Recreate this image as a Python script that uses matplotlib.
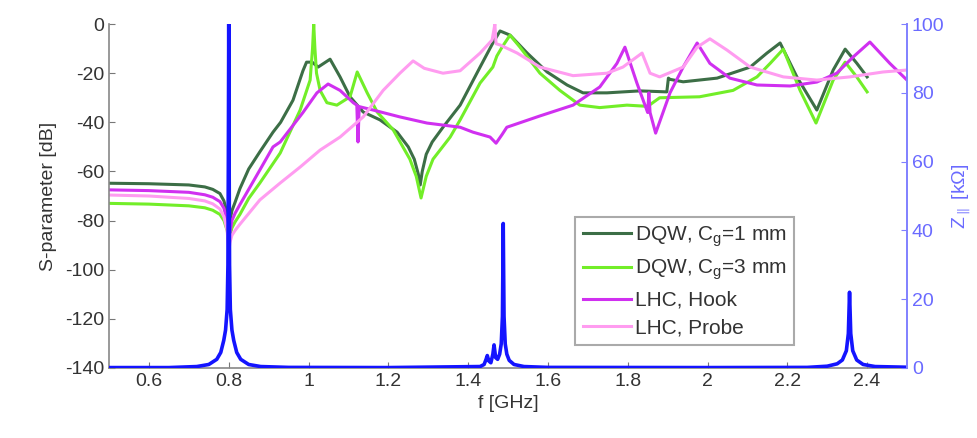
import matplotlib.pyplot as plt
from matplotlib.ticker import FormatStrFormatter

plt.rcParams['font.family'] = ['Liberation Sans', 'DejaVu Sans']
plt.rcParams['mathtext.fontset'] = 'custom'
plt.rcParams['mathtext.rm'] = 'Liberation Sans'
plt.rcParams['mathtext.it'] = 'Liberation Sans:italic'
plt.rcParams['axes.unicode_minus'] = False

# S-parameters [dB]
f_dqw1 = [0.5, 0.6, 0.7, 0.74, 0.76, 0.778, 0.788, 0.796, 0.8, 0.803, 0.808, 0.816, 0.828, 0.85,
          0.878, 0.911, 0.93, 0.961, 0.986, 0.995, 1.009, 1.024, 1.054, 1.079, 1.104, 1.137, 1.179,
          1.222, 1.25, 1.265, 1.275, 1.28, 1.285, 1.295, 1.31, 1.337, 1.38, 1.43, 1.462, 1.48,
          1.505, 1.548, 1.598, 1.648, 1.688, 1.748, 1.83, 1.898, 1.902, 1.906, 1.939, 2.024, 2.107,
          2.149, 2.182, 2.224, 2.274, 2.315, 2.345, 2.374, 2.4]
s_dqw1 = [-64.8, -65, -65.5, -66.3, -67.3, -69, -72, -77, -84, -80, -76, -72.5, -67, -59,
          -52, -44, -40, -31, -19, -15.5, -15.5, -17.5, -14.3, -21.5, -29.6, -35.8, -39,
          -44, -50, -55, -61, -65.5, -60, -53, -48, -42, -33, -17.5, -7.7, -2.8,
          -4.5, -11.8, -19.5, -24.8, -28, -28, -27.2, -27.6, -22, -22.5, -23.5, -22, -17.5,
          -11.8, -7.7, -21.5, -35, -18.7, -10.2, -15.9, -21.5]

f_dqw3 = [0.5, 0.6, 0.7, 0.74, 0.76, 0.778, 0.788, 0.796, 0.8, 0.803, 0.808, 0.816, 0.828, 0.85,
          0.878, 0.929, 0.979, 1.004, 1.01, 1.013, 1.016, 1.02, 1.029, 1.046, 1.071, 1.104, 1.122,
          1.147, 1.172, 1.212, 1.254, 1.27, 1.282, 1.295, 1.312, 1.355, 1.38, 1.43, 1.462, 1.472,
          1.485, 1.505, 1.53, 1.58, 1.63, 1.68, 1.73, 1.798, 1.85, 1.88, 1.98, 2.064, 2.124, 2.157,
          2.19, 2.232, 2.272, 2.315, 2.345, 2.374, 2.4]
s_dqw3 = [-73, -73.3, -74, -74.8, -75.8, -77.5, -80, -84, -88, -86, -83, -80.5, -77.5, -71,
          -64.7, -52.5, -35, -22.8, -10, 0, -10, -20, -27, -32, -33, -29.6, -19.5,
          -28, -35.8, -43, -55, -62, -70.8, -62, -55, -46, -39, -24, -17.5, -13,
          -9.4, -4.5, -9.4, -20, -27, -33, -34, -33, -33.5, -30, -29.6, -27, -21.5, -16,
          -10.2, -27, -40.3, -22.8, -15.5, -21.5, -27.6]

f_hook = [0.5, 0.6, 0.7, 0.74, 0.76, 0.778, 0.788, 0.796, 0.8, 0.803, 0.808, 0.816, 0.828, 0.878,
          0.911, 0.929, 0.986, 1.021, 1.049, 1.079, 1.112, 1.121, 1.124, 1.127, 1.137, 1.162, 1.229,
          1.297, 1.38, 1.412, 1.455, 1.47, 1.485, 1.497, 1.58, 1.663, 1.73, 1.773, 1.793, 1.823,
          1.85, 1.853, 1.856, 1.87, 1.906, 1.939, 1.974, 2.006, 2.056, 2.124, 2.207, 2.274, 2.324,
          2.365, 2.407, 2.457, 2.5]
s_hook = [-67.5, -67.8, -68.5, -69.5, -70.5, -72.3, -75, -80, -90, -85, -80, -77, -73.5, -59.4,
          -50, -48, -36, -28, -24.4, -27, -32, -33, -48, -33.6, -34, -35, -37.8,
          -40.3, -42, -44, -46, -48.5, -45, -42, -37.4, -33, -25.6, -16, -9.4, -24,
          -36, -28, -36, -44.4, -28, -17.5, -7.7, -16, -22, -24.8, -25.2, -23.6, -20,
          -13.4, -7.3, -16, -22.8]

f_probe = [0.5, 0.6, 0.7, 0.74, 0.76, 0.778, 0.788, 0.796, 0.8, 0.803, 0.808, 0.816, 0.828, 0.878,
           0.929, 0.979, 1.029, 1.079, 1.137, 1.187, 1.229, 1.262, 1.29, 1.337, 1.38, 1.43, 1.46,
           1.465, 1.467, 1.47, 1.48, 1.523, 1.58, 1.663, 1.748, 1.788, 1.836, 1.856, 1.88, 1.939,
           1.974, 2.006, 2.049, 2.107, 2.19, 2.274, 2.357, 2.44, 2.5]
s_probe = [-69.6, -70, -71, -72, -73.2, -75.3, -78.5, -84, -93, -89, -86, -84, -81.5, -71.6,
           -64.7, -58.2, -51.3, -46, -37.8, -27, -20, -15, -18, -20, -19, -11.8, -6.5,
           -2, 0, -8, -8.5, -11.8, -17.5, -21, -20, -17.5, -11.8, -20, -21.5, -17.5,
           -9.4, -6, -10.6, -17.5, -21.5, -22.8, -21.5, -19.5, -18.7]

# longitudinal impedance [kOhm]
f_z = [0.5, 0.65, 0.72, 0.75, 0.77, 0.78, 0.7875, 0.792, 0.796, 0.798, 0.799, 0.8, 0.801, 0.802,
       0.804, 0.808, 0.8125, 0.82, 0.83, 0.85, 0.88, 0.95, 1.2, 1.43, 1.44, 1.445, 1.448, 1.452,
       1.457, 1.462, 1.465, 1.469, 1.474, 1.479, 1.483, 1.486, 1.487, 1.488, 1.489, 1.49, 1.493,
       1.497, 1.503, 1.515, 1.54, 1.6, 2.0, 2.25, 2.3, 2.325, 2.338, 2.348, 2.353, 2.355, 2.356,
       2.357, 2.359, 2.364, 2.374, 2.39, 2.42, 2.5]
z = [0.1, 0.1, 0.4, 1.0, 2.5, 4.5, 8, 11, 17, 30, 60, 100, 60, 30,
     17, 11, 8, 4.5, 2.5, 1.0, 0.4, 0.15, 0.1, 0.4, 1.0, 2.5, 3.6, 2.0,
     1.5, 4, 6.7, 3, 2.5, 4, 7, 15, 28, 42, 28, 15, 7,
     4, 2.2, 1.0, 0.4, 0.15, 0.1, 0.15, 0.5, 1.2, 2.3, 5, 10, 18, 22,
     18, 10, 5, 2.3, 1.0, 0.4, 0.2]

fig, ax = plt.subplots(figsize=(9.78, 4.38), dpi=100)
fig.subplots_adjust(left=0.1115, right=0.9274, bottom=0.16, top=0.945)

ax.plot(f_dqw1, s_dqw1, color='#3c6e46', lw=2.2, label=r'DQW, C$_\mathrm{g}$=1 mm')
ax.plot(f_dqw3, s_dqw3, color='#72ee28', lw=2.2, label=r'DQW, C$_\mathrm{g}$=3 mm')
ax.plot(f_hook, s_hook, color='#d030f0', lw=2.2, label='LHC, Hook')
ax.plot(f_probe, s_probe, color='#ff9cf0', lw=2.2, label='LHC, Probe')

ax.set_xlim(0.5, 2.5)
ax.set_ylim(-140, 0)
ax.set_yticks(range(-140, 1, 20))
ax.set_xticks([0.6, 0.8, 1.0, 1.2, 1.4, 1.6, 1.8, 2.0, 2.2, 2.4])
ax.xaxis.set_major_formatter(FormatStrFormatter('%g'))
ax.set_xlabel('f [GHz]', fontsize=14, color='#333333')
ax.set_ylabel('S-parameter [dB]', fontsize=14, color='#333333', labelpad=6)
ax.tick_params(direction='in', labelsize=14, labelcolor='#333333', color='#777777', length=4)
for side in ['top', 'right']:
    ax.spines[side].set_visible(False)
for side in ['left', 'bottom']:
    ax.spines[side].set_color('#888888')
    ax.spines[side].set_linewidth(1.2)

ax2 = ax.twinx()
ax2.plot(f_z, z, color='#1414ff', lw=2.6)
ax2.set_ylim(0, 100)
ax2.set_yticks(range(0, 101, 20))
ax2.set_ylabel(r'Z$_{\parallel}$ [k$\Omega$]', fontsize=14, color='#6a6aff')
ax2.tick_params(direction='in', labelsize=14, labelcolor='#6a6aff', color='#8080ff', length=4)
for side in ['top', 'left', 'bottom']:
    ax2.spines[side].set_visible(False)
ax2.spines['right'].set_color('#8080ff')
ax2.spines['right'].set_linewidth(1.4)

handles, labels = ax.get_legend_handles_labels()
leg = ax2.legend(handles, labels, loc='lower right', bbox_to_anchor=(0.858, 0.067), fontsize=15,
                 handlelength=2.3, handletextpad=0.2, fancybox=False, edgecolor='#aaaaaa',
                 framealpha=1, borderpad=0.35, labelspacing=0.42, borderaxespad=0)
leg.get_frame().set_linewidth(1.5)
for t in leg.get_texts():
    t.set_color('#333333')

fig.savefig('out.png', dpi=100)
